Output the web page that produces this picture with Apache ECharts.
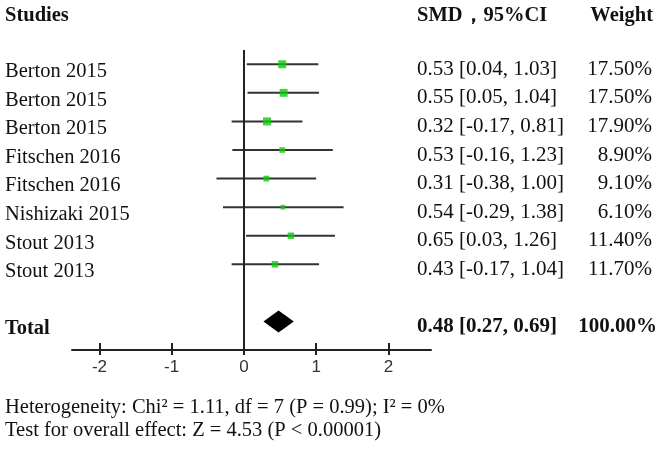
<!DOCTYPE html>
<html><head><meta charset="utf-8">
<script src="https://cdn.jsdelivr.net/npm/echarts@6/dist/echarts.min.js"></script>
<style>html,body{margin:0;padding:0;background:#fff}#c{width:661px;height:450px}</style>
</head><body><div id="c"></div>
<script>
const studies = ['Berton 2015','Berton 2015','Berton 2015','Fitschen 2016','Fitschen 2016','Nishizaki 2015','Stout 2013','Stout 2013'];
const smd = [0.53,0.55,0.32,0.53,0.31,0.54,0.65,0.43];
const ciLow = [0.04,0.05,-0.17,-0.16,-0.38,-0.29,0.03,-0.17];
const ciHigh = [1.03,1.04,0.81,1.23,1.00,1.38,1.26,1.04];
const weights = [17.5,17.5,17.9,8.9,9.1,6.1,11.4,11.7];
const totalLabel = 'Total';
const totalEst = [0.48, 0.27, 0.69]; // estimate, low, high
const totalWeight = 100;
const xTicks = [-2,-1,0,1,2];
const heterogeneity = 'Heterogeneity: Chi² = 1.11, df = 7 (P = 0.99); I² = 0%';
const overall = 'Test for overall effect: Z = 4.53 (P < 0.00001)';

const SERIF = '"Liberation Serif","Times New Roman",serif';
const rows = studies.map((s,i)=>i);
const totalRow = studies.length + 1;
const labelRows = rows.concat([totalRow]);
const fmt = v => v.toFixed(2);
const ciText = i => fmt(smd[i]) + ' [' + fmt(ciLow[i]) + ', ' + fmt(ciHigh[i]) + ']';

const chart = echarts.init(document.getElementById('c'));
const baseY = {type:'value', min:-0.5, max:10, inverse:true, axisLine:{show:false}, axisTick:{show:false}, splitLine:{show:false}};
chart.setOption({
  animation:false,
  grid:{left:72, right:230, top:50, bottom:100},
  xAxis:[
    {type:'value', min:-2.38, max:2.59, position:'bottom', splitLine:{show:false},
     axisLine:{onZero:false, lineStyle:{color:'#222', width:2}},
     axisTick:{customValues:xTicks, length:5, lineStyle:{color:'#222', width:2}},
     axisLabel:{customValues:xTicks, color:'#333', fontFamily:'"Liberation Sans",Arial,sans-serif', fontSize:17, margin:9}},
    {type:'value', min:-2.38, max:2.59, position:'bottom', splitLine:{show:false},
     axisLine:{show:false, onZero:false},
     axisTick:{inside:true, customValues:xTicks, length:7, lineStyle:{color:'#222', width:2}},
     axisLabel:{show:false}}
  ],
  yAxis:[
    Object.assign({}, baseY, {position:'left', axisLabel:{customValues:labelRows, align:'left', margin:67, padding:[15,0,0,0],
      fontFamily:SERIF, fontSize:20.5, color:'#111',
      formatter:v => v===totalRow ? '{b|'+totalLabel+'}' : studies[v],
      rich:{b:{fontWeight:'bold', fontFamily:SERIF, fontSize:20.5, color:'#111'}}}}),
    Object.assign({}, baseY, {position:'right', axisLabel:{customValues:labelRows, align:'left', margin:-14, padding:[10,0,0,0],
      fontFamily:SERIF, fontSize:21, color:'#111',
      formatter:v => v===totalRow ? '{b|'+fmt(totalEst[0])+' ['+fmt(totalEst[1])+', '+fmt(totalEst[2])+']}' : ciText(v),
      rich:{b:{fontWeight:'bold', fontFamily:SERIF, fontSize:21, color:'#111'}}}}),
    Object.assign({}, baseY, {position:'right', axisLabel:{customValues:labelRows, align:'right', margin:226, padding:[10,0,0,0],
      fontFamily:SERIF, fontSize:21, color:'#111',
      formatter:v => v===totalRow ? '{b|'+totalWeight.toFixed(2)+'%}' : '{n|'+weights[v].toFixed(2)+'%}',
      rich:{b:{fontWeight:'bold', fontFamily:SERIF, fontSize:21, color:'#111'},
            n:{fontFamily:SERIF, fontSize:21, color:'#111', padding:[0,5,0,0]}}}})
  ],
  graphic:[
    {type:'text', left:5, top:5, style:{text:'Studies', font:'bold 20.5px '+SERIF, fill:'#111'}},
    {type:'text', left:417, top:5, style:{text:'SMD，95%CI', font:'bold 20.5px '+SERIF, fill:'#111'}},
    {type:'text', right:8, top:5, style:{text:'Weight', font:'bold 20.5px '+SERIF, fill:'#111'}},
    {type:'text', left:5, top:397, style:{text:heterogeneity, font:'20.5px '+SERIF, fill:'#111'}},
    {type:'text', left:5, top:420, style:{text:overall, font:'20.5px '+SERIF, fill:'#111'}}
  ],
  series:[
    {type:'custom', coordinateSystem:'cartesian2d',
     data: rows.map(i=>[ciLow[i], ciHigh[i], i]),
     renderItem:(params, api)=>{
       const a = api.coord([api.value(0), api.value(2)]);
       const b = api.coord([api.value(1), api.value(2)]);
       return {type:'line', shape:{x1:a[0], y1:a[1], x2:b[0], y2:b[1]}, style:{stroke:'#333', lineWidth:2}};
     },
     markLine:{silent:true, symbol:'none', label:{show:false}, lineStyle:{color:'#222', width:2, type:'solid'},
       data:[[{coord:[0,-0.5]},{coord:[0,10]}]]}
    },
    {type:'scatter', symbol:'rect', z:5,
     data: rows.map(i=>[smd[i], i, weights[i]]),
     symbolSize: d => 1.9*Math.sqrt(d[2]),
     itemStyle:{color:'#0fcb0f'}},
    {type:'custom', coordinateSystem:'cartesian2d', z:6,
     data:[[totalEst[0], totalEst[1], totalEst[2], totalRow]],
     renderItem:(params, api)=>{
       const y = api.value(3);
       const c = api.coord([api.value(0), y]);
       const l = api.coord([api.value(1), y]);
       const r = api.coord([api.value(2), y]);
       const h = 11;
       return {type:'polygon', shape:{points:[[l[0],c[1]],[c[0],c[1]-h],[r[0],c[1]],[c[0],c[1]+h]]}, style:{fill:'#000'}};
     }}
  ]
});
</script></body></html>
